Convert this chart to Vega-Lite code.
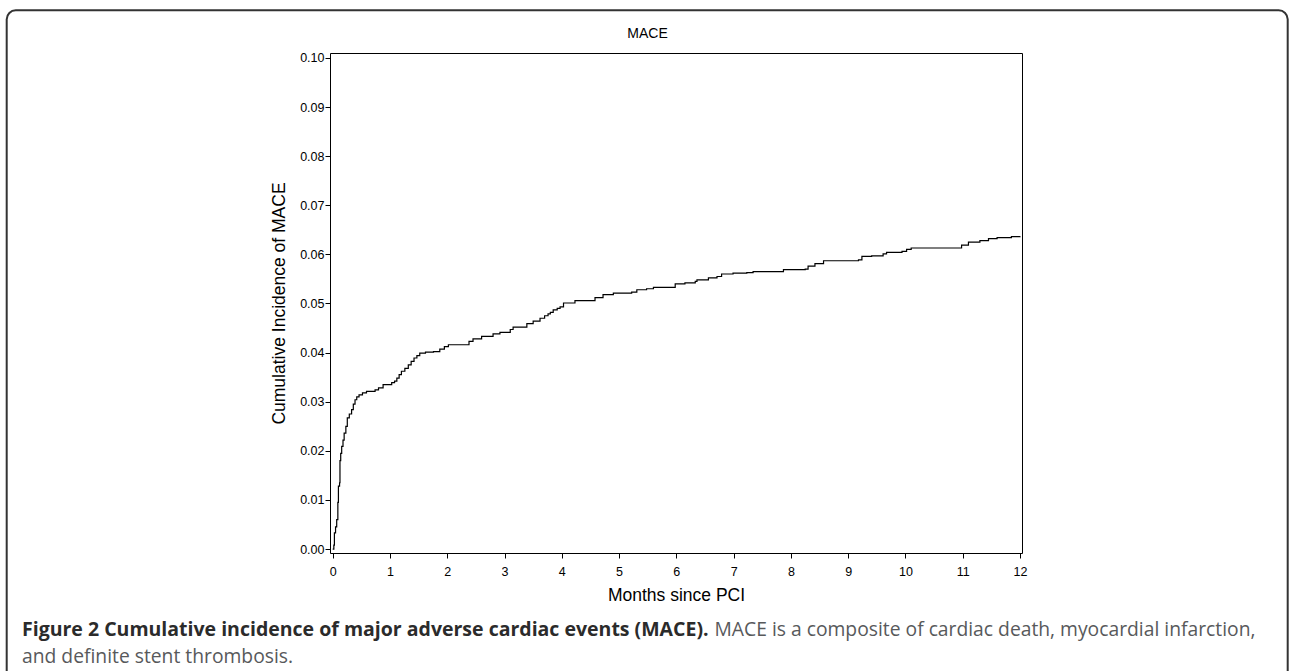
{
  "$schema": "https://vega.github.io/schema/vega-lite/v6.json",
  "width": 692,
  "height": 500,
  "autosize": {"type": "none"},
  "padding": {"left": 330, "top": 53, "right": 267, "bottom": 118},
  "background": "white",
  "title": {
    "text": "Figure 2 Cumulative incidence of major adverse cardiac events (MACE).",
    "subtitle": "and definite stent thrombosis.",
    "orient": "bottom",
    "anchor": "start",
    "frame": "group",
    "dx": -308,
    "dy": -76,
    "offset": 0,
    "baseline": "alphabetic",
    "font": "Open Sans",
    "fontSize": 19.5,
    "fontWeight": "bold",
    "color": "#2b2b2b",
    "subtitleFont": "Open Sans",
    "subtitleFontSize": 19.3,
    "subtitleFontWeight": "normal",
    "subtitleColor": "#58595b",
    "subtitlePadding": 7
  },
  "data": {
    "values": [
      {"month": 0, "inc": 0},
      {"month": 0.02, "inc": 0.0008},
      {"month": 0.03, "inc": 0.0033},
      {"month": 0.05, "inc": 0.0045},
      {"month": 0.07, "inc": 0.006},
      {"month": 0.09, "inc": 0.0095},
      {"month": 0.1, "inc": 0.0128},
      {"month": 0.12, "inc": 0.0135},
      {"month": 0.127, "inc": 0.018},
      {"month": 0.14, "inc": 0.0195},
      {"month": 0.157, "inc": 0.0209},
      {"month": 0.18, "inc": 0.0222},
      {"month": 0.2, "inc": 0.0236},
      {"month": 0.23, "inc": 0.025},
      {"month": 0.255, "inc": 0.0267},
      {"month": 0.29, "inc": 0.0275},
      {"month": 0.33, "inc": 0.0284},
      {"month": 0.36, "inc": 0.0295},
      {"month": 0.39, "inc": 0.0304},
      {"month": 0.42, "inc": 0.031},
      {"month": 0.46, "inc": 0.0314},
      {"month": 0.52, "inc": 0.0318},
      {"month": 0.59, "inc": 0.0321},
      {"month": 0.74, "inc": 0.0324},
      {"month": 0.8, "inc": 0.0328},
      {"month": 0.88, "inc": 0.0335},
      {"month": 1.03, "inc": 0.0339},
      {"month": 1.08, "inc": 0.0342},
      {"month": 1.12, "inc": 0.0348},
      {"month": 1.16, "inc": 0.0355},
      {"month": 1.2, "inc": 0.0362},
      {"month": 1.26, "inc": 0.0368},
      {"month": 1.32, "inc": 0.0375},
      {"month": 1.37, "inc": 0.0382},
      {"month": 1.42, "inc": 0.0389},
      {"month": 1.47, "inc": 0.0394},
      {"month": 1.52, "inc": 0.0399},
      {"month": 1.62, "inc": 0.0401},
      {"month": 1.76, "inc": 0.0402},
      {"month": 1.87, "inc": 0.0407},
      {"month": 1.95, "inc": 0.0412},
      {"month": 2.02, "inc": 0.0416},
      {"month": 2.38, "inc": 0.0423},
      {"month": 2.45, "inc": 0.0428},
      {"month": 2.6, "inc": 0.0433},
      {"month": 2.8, "inc": 0.0438},
      {"month": 2.92, "inc": 0.0441},
      {"month": 3.1, "inc": 0.0447},
      {"month": 3.15, "inc": 0.0452},
      {"month": 3.39, "inc": 0.0459},
      {"month": 3.5, "inc": 0.0464},
      {"month": 3.62, "inc": 0.047},
      {"month": 3.7, "inc": 0.0475},
      {"month": 3.76, "inc": 0.0479},
      {"month": 3.8, "inc": 0.0482},
      {"month": 3.85, "inc": 0.0487},
      {"month": 3.92, "inc": 0.049},
      {"month": 3.97, "inc": 0.0493},
      {"month": 4.03, "inc": 0.0501},
      {"month": 4.23, "inc": 0.0506},
      {"month": 4.58, "inc": 0.0512},
      {"month": 4.72, "inc": 0.0518},
      {"month": 4.9, "inc": 0.0521},
      {"month": 5.22, "inc": 0.0523},
      {"month": 5.31, "inc": 0.0528},
      {"month": 5.48, "inc": 0.053},
      {"month": 5.6, "inc": 0.0533},
      {"month": 5.98, "inc": 0.054},
      {"month": 6.15, "inc": 0.0542},
      {"month": 6.33, "inc": 0.0545},
      {"month": 6.36, "inc": 0.0548},
      {"month": 6.56, "inc": 0.0552},
      {"month": 6.71, "inc": 0.0555},
      {"month": 6.79, "inc": 0.056},
      {"month": 6.99, "inc": 0.0562},
      {"month": 7.23, "inc": 0.0563},
      {"month": 7.34, "inc": 0.0565},
      {"month": 7.87, "inc": 0.0569},
      {"month": 8.25, "inc": 0.057},
      {"month": 8.3, "inc": 0.0576},
      {"month": 8.42, "inc": 0.0581},
      {"month": 8.57, "inc": 0.0587},
      {"month": 9.18, "inc": 0.0589},
      {"month": 9.24, "inc": 0.0596},
      {"month": 9.41, "inc": 0.0597},
      {"month": 9.61, "inc": 0.0601},
      {"month": 9.67, "inc": 0.0604},
      {"month": 9.94, "inc": 0.0606},
      {"month": 10.02, "inc": 0.061},
      {"month": 10.1, "inc": 0.0613},
      {"month": 10.98, "inc": 0.0619},
      {"month": 11.1, "inc": 0.0625},
      {"month": 11.3, "inc": 0.0628},
      {"month": 11.45, "inc": 0.0632},
      {"month": 11.6, "inc": 0.0634},
      {"month": 11.85, "inc": 0.0636},
      {"month": 12.0, "inc": 0.0637}
    ]
  },
  "layer": [
    {
      "mark": {"type": "line", "interpolate": "step-after", "color": "#000000", "strokeWidth": 1.2, "clip": true},
      "encoding": {
        "x": {
          "field": "month",
          "type": "quantitative",
          "scale": {"domain": [-0.047, 12.035], "nice": false, "zero": false},
          "axis": {
            "orient": "bottom",
            "title": "Months since PCI",
            "values": [0, 1, 2, 3, 4, 5, 6, 7, 8, 9, 10, 11, 12],
            "format": "d",
            "domain": false,
            "grid": false,
            "tickSize": 5,
            "tickColor": "#000000",
            "labelPadding": 7,
            "labelFont": "Liberation Sans",
            "labelFontSize": 12.5,
            "labelColor": "#000000",
            "titleFont": "Liberation Sans",
            "titleFontSize": 17.5,
            "titleFontWeight": "normal",
            "titleColor": "#000000",
            "titlePadding": 9
          }
        },
        "y": {
          "field": "inc",
          "type": "quantitative",
          "scale": {"domain": [-0.0008, 0.101], "nice": false, "zero": false},
          "axis": {
            "orient": "left",
            "title": "Cumulative Incidence of MACE",
            "values": [0, 0.01, 0.02, 0.03, 0.04, 0.05, 0.06, 0.07, 0.08, 0.09, 0.1],
            "format": ".2f",
            "domain": false,
            "grid": false,
            "tickSize": 5,
            "tickColor": "#000000",
            "labelPadding": 1,
            "labelFont": "Liberation Sans",
            "labelFontSize": 12.5,
            "labelColor": "#000000",
            "titleFont": "Liberation Sans",
            "titleFontSize": 17.5,
            "titleFontWeight": "normal",
            "titleColor": "#000000",
            "titlePadding": 11
          }
        }
      }
    },
    {
      "mark": {"type": "line", "interpolate": "step-after", "opacity": 0},
      "encoding": {
        "x": {
          "field": "month",
          "type": "quantitative",
          "axis": {
            "orient": "top",
            "title": "MACE",
            "labels": false,
            "ticks": false,
            "domain": false,
            "grid": false,
            "titleFont": "Liberation Sans",
            "titleFontSize": 14,
            "titleFontWeight": "normal",
            "titleColor": "#000000",
            "titleX": 317,
            "titleY": -16,
            "titleAlign": "center",
            "titleBaseline": "alphabetic"
          }
        },
        "y": {
          "field": "inc",
          "type": "quantitative",
          "axis": {
            "orient": "right",
            "title": "MACE is a composite of cardiac death, myocardial infarction,",
            "labels": false,
            "ticks": false,
            "domain": false,
            "grid": false,
            "titleAngle": 0,
            "titleAlign": "left",
            "titleBaseline": "alphabetic",
            "titleX": -308,
            "titleY": 582,
            "titleFont": "Open Sans",
            "titleFontSize": 19.3,
            "titleFontWeight": "normal",
            "titleColor": "#58595b"
          }
        },
        "color": {
          "field": "inc",
          "type": "quantitative",
          "scale": {"range": ["rgba(255,255,255,0)", "rgba(255,255,255,0)"]},
          "legend": {
            "orient": "none",
            "legendX": -323.3,
            "legendY": -42.7,
            "direction": "horizontal",
            "gradientLength": 1281,
            "gradientThickness": 700,
            "gradientStrokeWidth": 0,
            "gradientStrokeColor": "rgba(0,0,0,0)",
            "padding": 0,
            "strokeColor": "#333333",
            "cornerRadius": 9,
            "title": null,
            "labelExpr": "''",
            "labelFontSize": 1,
            "labelOffset": 0,
            "labelOpacity": 0
          }
        }
      }
    }
  ],
  "resolve": {"axis": {"x": "independent", "y": "independent"}},
  "config": {
    "view": {"stroke": "#000000", "strokeWidth": 1},
    "legend": {"gradientHorizontalMaxLength": 2000, "strokeWidth": 2}
  }
}
